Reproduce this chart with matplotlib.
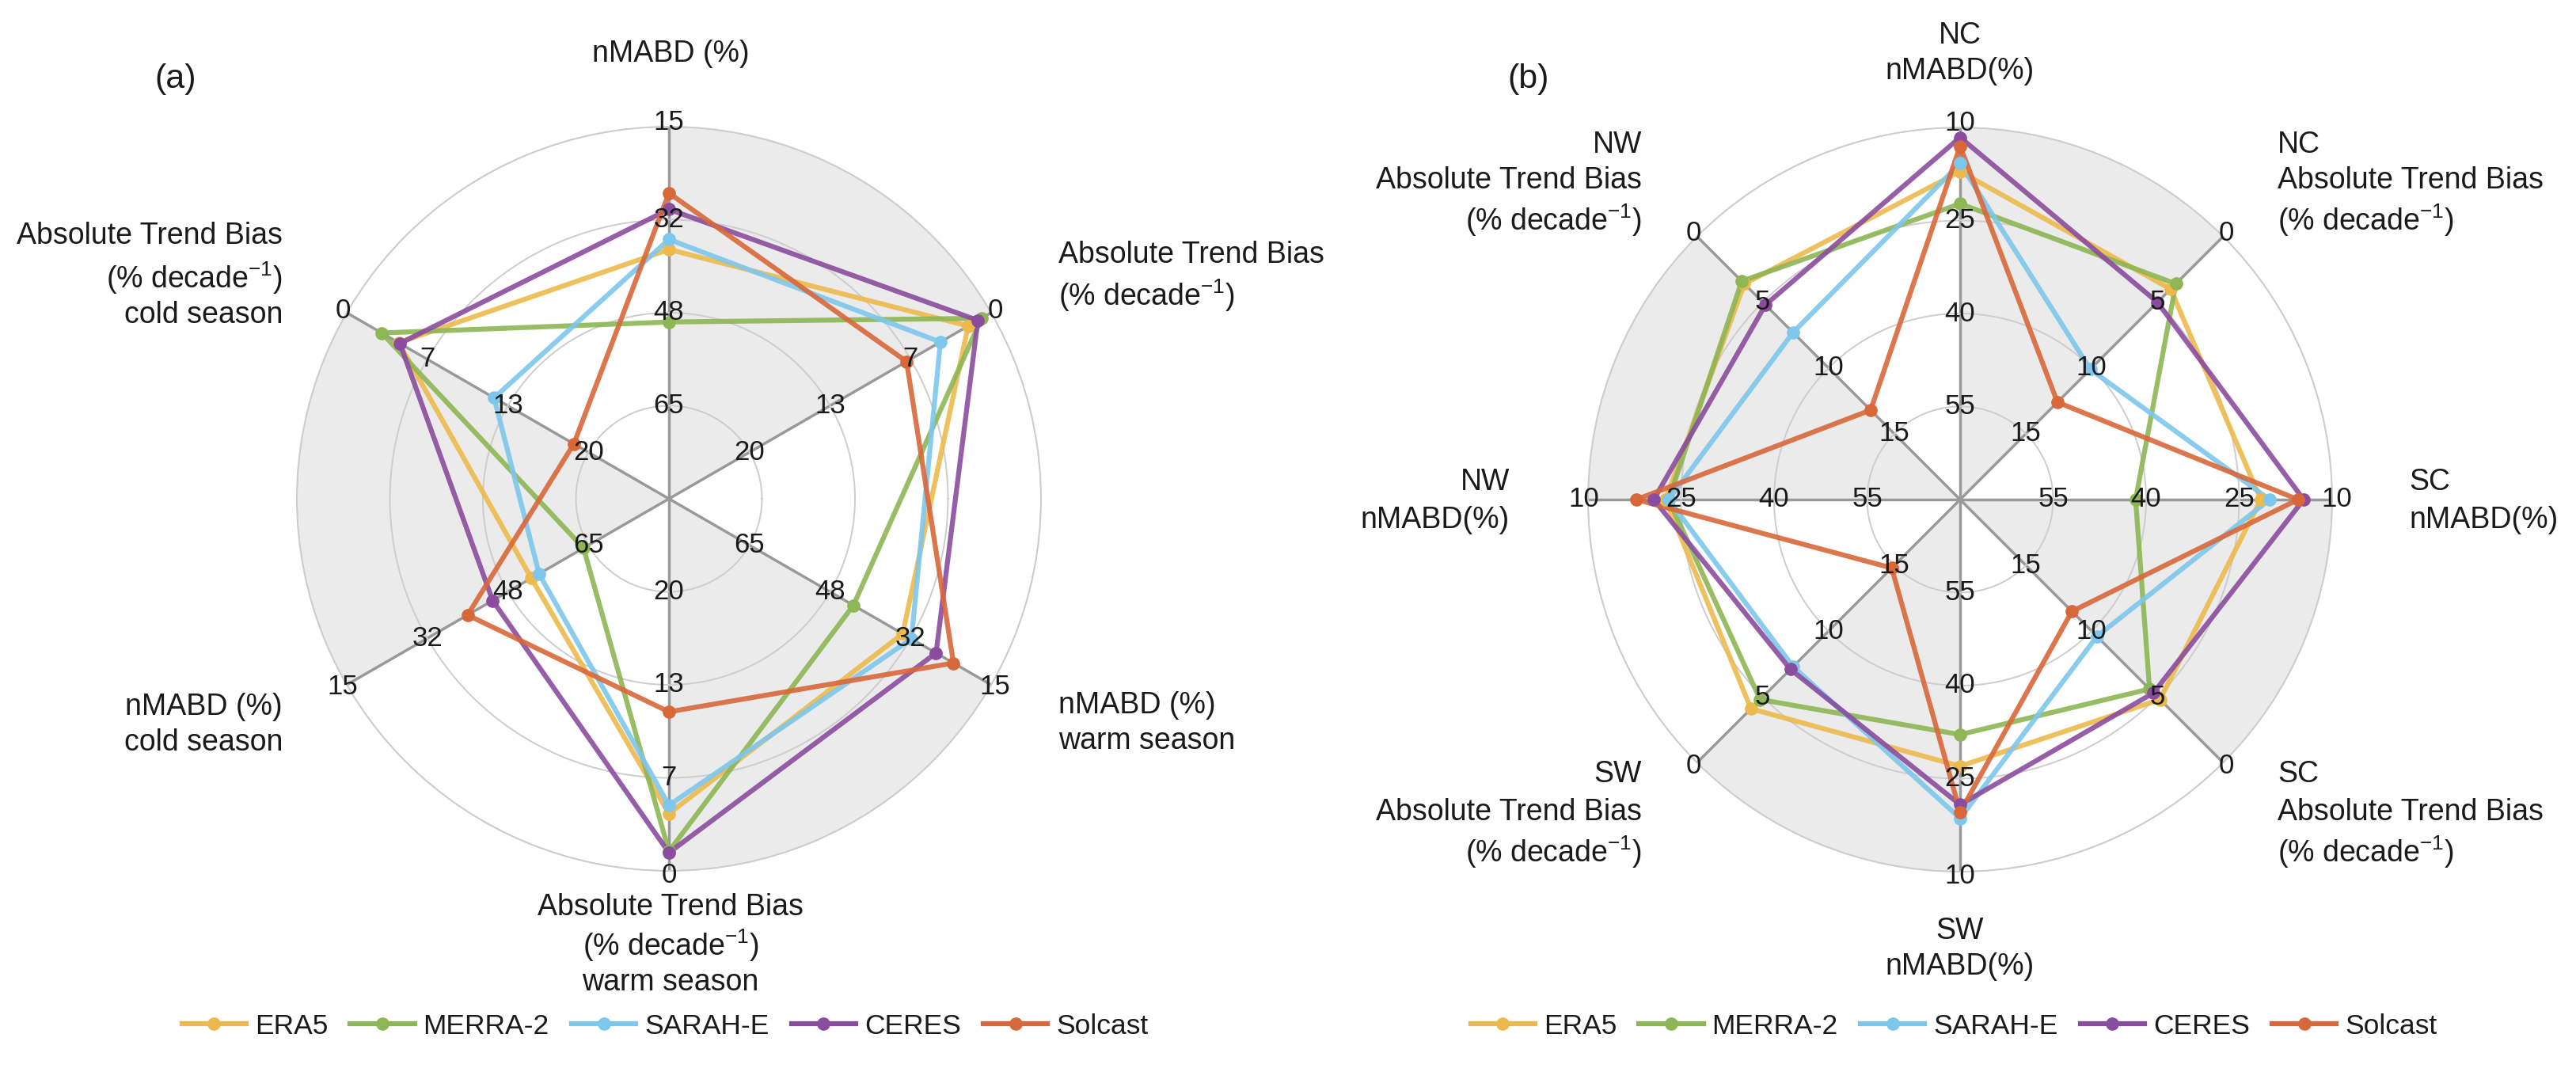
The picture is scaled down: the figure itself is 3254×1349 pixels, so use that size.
import numpy as np
import matplotlib
matplotlib.use("Agg")
import matplotlib.pyplot as plt
from matplotlib.lines import Line2D

plt.rcParams["font.family"] = ["Liberation Sans", "DejaVu Sans"]
plt.rcParams["mathtext.fontset"] = "custom"
plt.rcParams["mathtext.rm"] = "Liberation Sans"
plt.rcParams["mathtext.it"] = "Liberation Sans:italic"
plt.rcParams["mathtext.bf"] = "Liberation Sans:bold"

# ---------------- data ----------------
series_names = ["ERA5", "MERRA-2", "SARAH-E", "CERES", "Solcast"]
series_colors = ["#EDB94C", "#8DB654", "#7DC7EC", "#8A4C9E", "#D8673A"]

# Panel (a): axes clockwise from top
a_kinds = ["nMABD", "ATB", "nMABD", "ATB", "nMABD", "ATB"]
a_angles_deg = [90, 30, -30, -90, -150, 150]
a_era5 = [37.0, 1.9, 33.3, 4.1, 53.2, 4.3]
a_merra2 = [50.0, 0.8, 43.5, 1.4, 64.0, 2.9]
a_sarahe = [35.2, 4.2, 31.5, 4.7, 54.8, 12.2]
a_ceres = [29.8, 1.1, 26.4, 1.3, 45.2, 4.4]
a_solcast = [26.9, 7.0, 22.8, 11.4, 40.0, 18.8]
a_nmabd_scale = (15.0, 81.67)   # value at outer ring, value at centre
a_atb_scale = (0.0, 26.67)
a_nmabd_ticks = ["15", "32", "48", "65"]
a_atb_ticks = ["0", "7", "13", "20"]

# Panel (b): axes clockwise from top
b_kinds = ["nMABD", "ATB", "nMABD", "ATB", "nMABD", "ATB", "nMABD", "ATB"]
b_angles_deg = [90, 45, 0, -45, -90, -135, 180, 135]
b_era5 = [17.1, 4.0, 21.5, 4.8, 27.0, 4.1, 22.5, 3.6]
b_merra2 = [22.3, 3.6, 41.7, 5.6, 32.1, 4.8, 23.0, 3.4]
b_sarahe = [15.8, 10.1, 20.1, 9.6, 18.6, 7.3, 23.0, 7.3]
b_ceres = [11.6, 5.0, 14.6, 5.3, 20.8, 7.1, 20.6, 5.2]
b_solcast = [13.0, 12.6, 15.5, 11.5, 19.6, 14.8, 17.8, 13.2]
b_nmabd_scale = (10.0, 70.0)
b_atb_scale = (0.0, 20.0)
b_nmabd_ticks = ["10", "25", "40", "55"]
b_atb_ticks = ["0", "5", "10", "15"]

ring_r = [1.0, 0.75, 0.5, 0.25]

# ---------------- figure ----------------
W, H = 3255, 1349
fig = plt.figure(figsize=(W / 100, H / 100), dpi=100)
TXT = "#1a1a1a"
LAB_FS = 27
TICK_FS = 25
LW = 4.5
MS = 11


def to_r(v, scale):
    outer, centre = scale
    return (centre - v) / (centre - outer)


def radar(cx, cy, R, kinds, angles_deg, data, sc_n, sc_t, ticks_n, ticks_t):
    ax = fig.add_axes([(cx - R) / W, 1 - (cy + R) / H, 2 * R / W, 2 * R / H],
                      projection="polar")
    th = np.deg2rad(np.mod(angles_deg, 360))
    ax.set_xticks(th)
    ax.set_xticklabels([])
    ax.set_xlim(0, 2 * np.pi)
    ax.set_yticks([0.25, 0.5, 0.75, 1.0])
    ax.set_yticklabels([])
    ax.set_ylim(0, 1)
    ax.tick_params(length=0, pad=0)
    ax.set_axisbelow(True)
    ax.xaxis.grid(True, color="#999999", lw=2.5)
    ax.yaxis.grid(True, color="#cdcdcd", lw=1.4)
    ax.spines["polar"].set_color("#cdcdcd")
    ax.spines["polar"].set_linewidth(1.4)
    # alternate grey sectors (between every other pair of spokes)
    n = len(th)
    step = 2 * np.pi / n
    centres = [np.mod(th[i] - step / 2, 2 * np.pi) for i in range(0, n, 2)]
    ax.bar(centres, [1.0] * len(centres), width=step, bottom=0,
           color="#ebebeb", lw=0, zorder=0.2)
    # series
    for vals, col in zip(data, series_colors):
        rr = [to_r(v, sc_n if k == "nMABD" else sc_t) for v, k in zip(vals, kinds)]
        tt = list(th) + [th[0]]
        rr = rr + [rr[0]]
        ax.plot(tt, rr, color=col, lw=LW, alpha=0.9, zorder=3,
                solid_joinstyle="round", clip_on=False)
        ax.plot(th, rr[:-1], ls="none", marker="o", ms=MS, color=col,
                zorder=3.5, clip_on=False)
    # ring labels
    for t, k in zip(th, kinds):
        labs = ticks_n if k == "nMABD" else ticks_t
        for r, lab in zip(ring_r, labs):
            ax.text(t, r * (1.012 if r == 1.0 else 1.0), lab, ha="center",
                    va="center", fontsize=TICK_FS, color=TXT, zorder=5)
    ax.set_xlim(0, 2 * np.pi)
    ax.set_ylim(0, 1)
    return ax


radar(845, 630, 470, a_kinds, a_angles_deg,
      [a_era5, a_merra2, a_sarahe, a_ceres, a_solcast],
      a_nmabd_scale, a_atb_scale, a_nmabd_ticks, a_atb_ticks)
radar(2476, 631, 470, b_kinds, b_angles_deg,
      [b_era5, b_merra2, b_sarahe, b_ceres, b_solcast],
      b_nmabd_scale, b_atb_scale, b_nmabd_ticks, b_atb_ticks)


def ftext(x, y, s, ha, fs=LAB_FS):
    fig.text(x / W, 1 - y / H, s, ha=ha, va="center", fontsize=fs, color=TXT)


DEC = r"(% decade$^{-1}$)"
# Panel (a) axis titles
ftext(847, 68, "nMABD (%)", "center")
ftext(1337, 322, "Absolute Trend Bias", "left")
ftext(1337, 373, DEC, "left")
ftext(1337, 891, "nMABD (%)", "left")
ftext(1337, 936, "warm season", "left")
ftext(847, 1146, "Absolute Trend Bias", "center")
ftext(847, 1194, DEC, "center")
ftext(847, 1241, "warm season", "center")
ftext(357, 893, "nMABD (%)", "right")
ftext(357, 938, "cold season", "right")
ftext(357, 298, "Absolute Trend Bias", "right")
ftext(357, 351, DEC, "right")
ftext(357, 398, "cold season", "right")
ftext(222, 100, "(a)", "center", fs=31)

# Panel (b) axis titles
ftext(2476, 45, "NC", "center")
ftext(2476, 90, "nMABD(%)", "center")
ftext(2877, 183, "NC", "left")
ftext(2877, 228, "Absolute Trend Bias", "left")
ftext(2877, 278, DEC, "left")
ftext(3043, 609, "SC", "left")
ftext(3043, 657, "nMABD(%)", "left")
ftext(2877, 978, "SC", "left")
ftext(2877, 1026, "Absolute Trend Bias", "left")
ftext(2877, 1076, DEC, "left")
ftext(2476, 1176, "SW", "center")
ftext(2476, 1221, "nMABD(%)", "center")
ftext(2074, 978, "SW", "right")
ftext(2074, 1026, "Absolute Trend Bias", "right")
ftext(2074, 1076, DEC, "right")
ftext(1907, 609, "NW", "right")
ftext(1907, 657, "nMABD(%)", "right")
ftext(2074, 183, "NW", "right")
ftext(2074, 228, "Absolute Trend Bias", "right")
ftext(2074, 278, DEC, "right")
ftext(1931, 100, "(b)", "center", fs=31)

# legends
handles = [Line2D([], [], color=c, lw=LW, marker="o", ms=MS) for c in series_colors]
for cx in (840, 2468):
    fig.legend(handles, series_names, loc="center",
               bbox_to_anchor=(cx / W, 1 - 1296 / H), ncol=5, frameon=False,
               fontsize=25.5, handlelength=2.3, handletextpad=0.3,
               columnspacing=0.8, labelcolor=TXT)

fig.savefig("out.png", dpi=100)
